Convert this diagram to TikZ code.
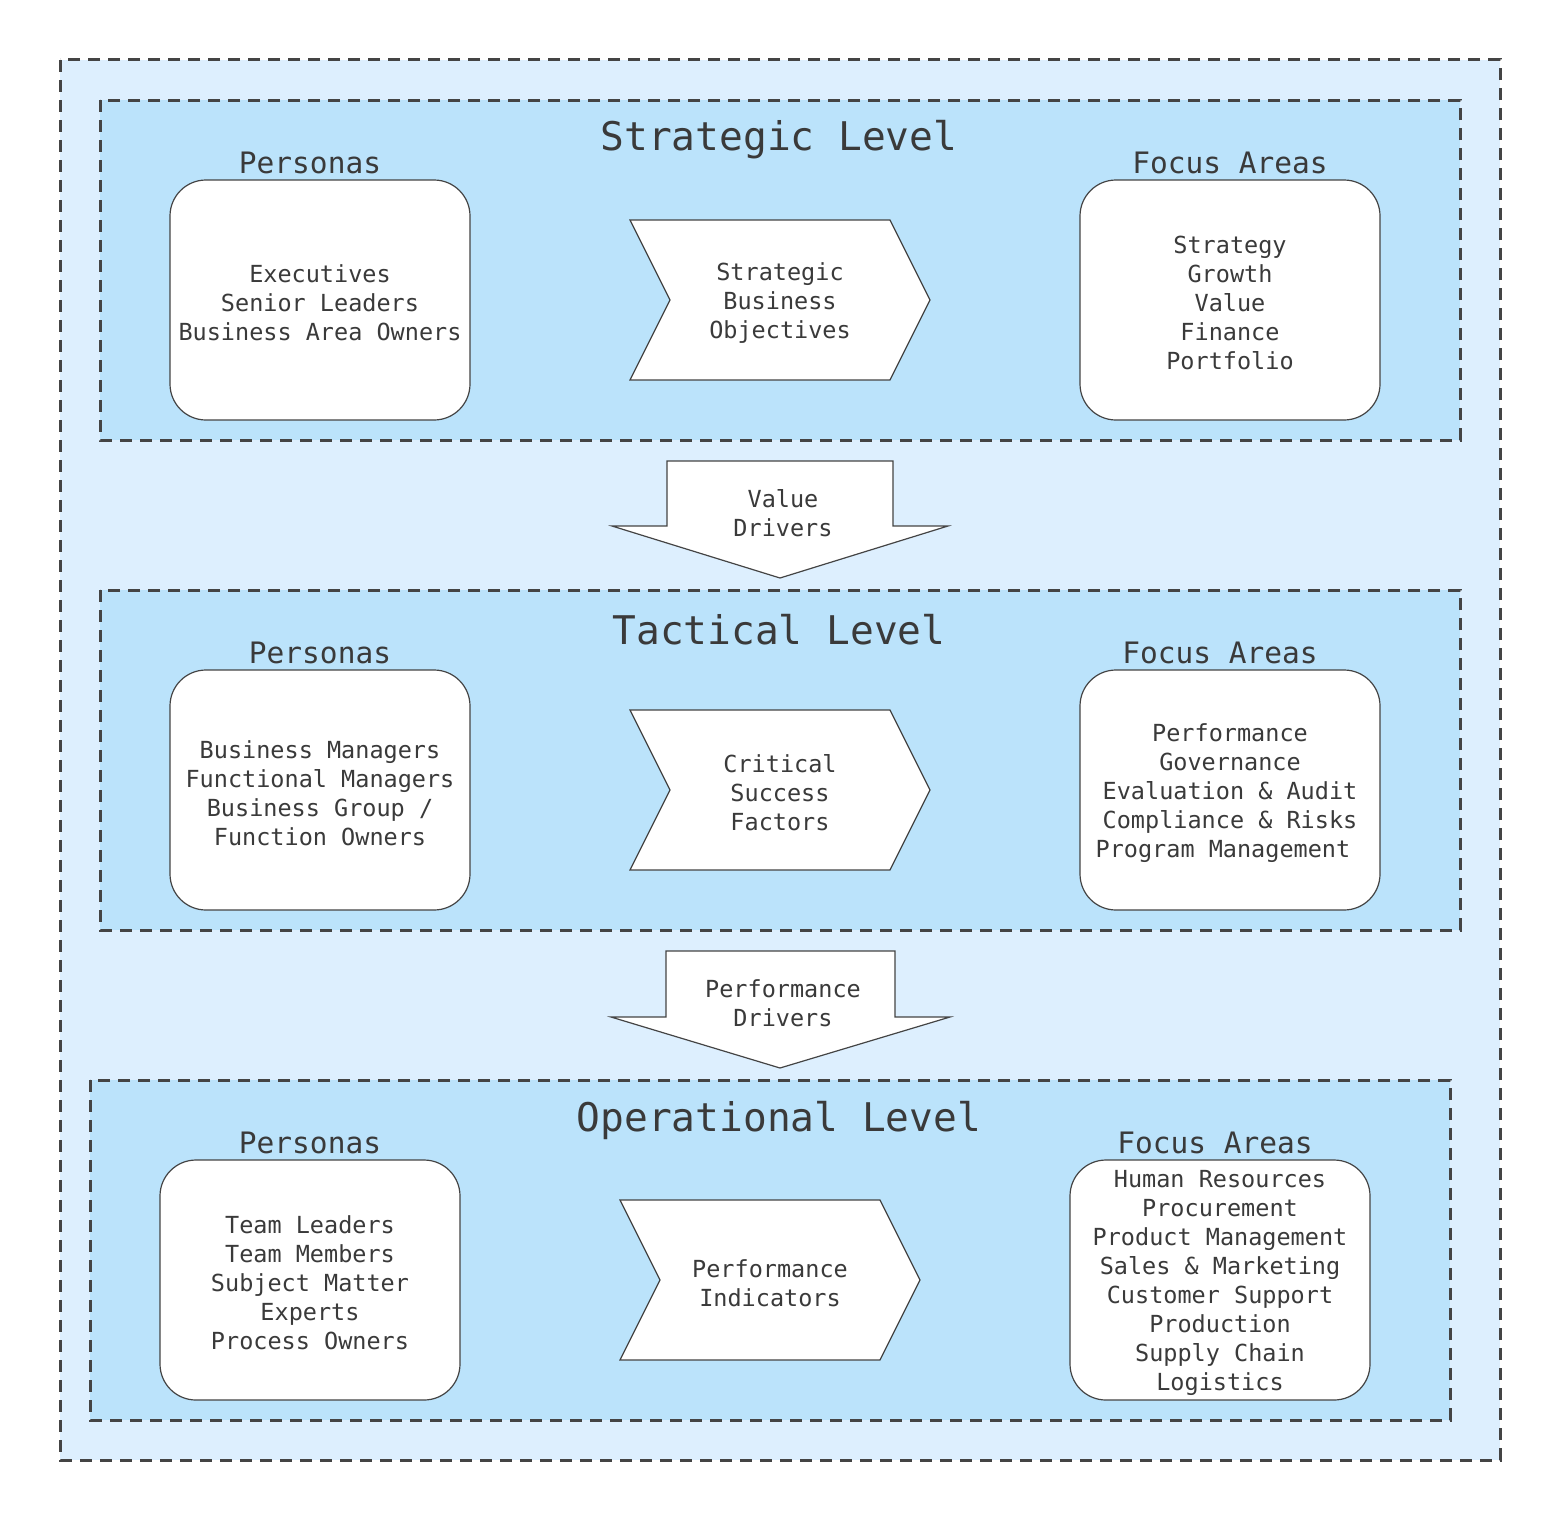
\documentclass[tikz,border=0pt]{standalone}
\usepackage{fontspec}
\setmonofont{DejaVu Sans Mono}
\definecolor{outerfill}{RGB}{221,239,254}
\definecolor{innerfill}{RGB}{187,227,251}
\definecolor{linec}{RGB}{68,68,68}
\definecolor{txt}{RGB}{58,58,58}
\newcommand{\bodyf}{\ttfamily\fontsize{23.5}{29}\selectfont}
\newcommand{\headf}{\ttfamily\fontsize{29.5}{36}\selectfont}
\newcommand{\titlef}{\ttfamily\fontsize{39.5}{48}\selectfont}
\tikzset{
  dashbox/.style={draw=linec, line width=3pt, dash pattern=on 12pt off 8pt},
  roundbox/.style={draw=linec, fill=white, line width=1.2pt, rounded corners=36pt,
    minimum width=300pt, minimum height=240pt, inner sep=0pt, align=center, font=\bodyf, text=txt},
  shapeline/.style={draw=linec, fill=white, line width=1.2pt, line join=miter},
  bodytext/.style={align=center, font=\bodyf, text=txt, inner sep=0pt},
  headtext/.style={font=\headf, text=txt, inner sep=0pt},
  titletext/.style={font=\titlef, text=txt, inner sep=0pt}
}
\begin{document}
\begin{tikzpicture}[x=1pt,y=-1pt]
\useasboundingbox (0,0) rectangle (1560,1520);
% outer
\fill[outerfill] (60,60) rectangle (1500,1460);
\draw[dashbox] (60,60) rectangle (1500,1460);
% level boxes
\fill[innerfill] (100,100) rectangle (1460,440);
\draw[dashbox] (100,100) rectangle (1460,440);
\fill[innerfill] (100,590) rectangle (1460,930);
\draw[dashbox] (100,590) rectangle (1460,930);
\fill[innerfill] (90,1080) rectangle (1450,1420);
\draw[dashbox] (90,1080) rectangle (1450,1420);

% ---------- Strategic ----------
\node[titletext] (t1) at (779,140) {Strategic Level};
\node[headtext] (p1h) at (310,163) {Personas};
\node[headtext] (f1h) at (1230,163) {Focus Areas};
\node[roundbox] (p1) at (320,300) {};
\node[bodytext] (p1t) at (320,303) {Executives\\Senior Leaders\\Business Area Owners};
\node[roundbox] (f1) at (1230,300) {};
\node[bodytext] (f1t) at (1230,303) {Strategy\\Growth\\Value\\Finance\\Portfolio};
\draw[shapeline] (630,220) -- (890,220) -- (930,300) -- (890,380) -- (630,380) -- (670,300) -- cycle;
\node[bodytext] (c1) at (780,303) {Strategic\\Business\\Objectives};

% Value drivers arrow
\draw[shapeline] (667,461) -- (893,461) -- (893,526) -- (948,526) -- (780,578) -- (612,526) -- (667,526) -- cycle;
\node[bodytext] (a1) at (783,513) {Value\\Drivers};

% ---------- Tactical ----------
\node[titletext] (t2) at (779,630) {Tactical Level};
\node[headtext] (p2h) at (320,653) {Personas};
\node[headtext] (f2h) at (1220,653) {Focus Areas};
\node[roundbox] (p2) at (320,790) {};
\node[bodytext] (p2t) at (320,793) {Business Managers\\Functional Managers\\Business Group /\\Function Owners};
\node[roundbox] (f2) at (1230,790) {};
\node[bodytext] (f2t) at (1230,793) {Performance\\Governance\\Evaluation \& Audit\\Compliance \& Risks\\Program Management\hspace*{0.6em}};
\draw[shapeline] (630,710) -- (890,710) -- (930,790) -- (890,870) -- (630,870) -- (670,790) -- cycle;
\node[bodytext] (c2) at (780,793) {Critical\\Success\\Factors};

% Performance drivers arrow
\draw[shapeline] (666,951) -- (895,951) -- (895,1017) -- (950,1017) -- (780,1068) -- (611,1017) -- (666,1017) -- cycle;
\node[bodytext] (a2) at (783,1003) {Performance\\Drivers};

% ---------- Operational ----------
\node[titletext] (t3) at (779,1120) {Operational Level};
\node[headtext] (p3h) at (310,1143) {Personas};
\node[headtext] (f3h) at (1215,1143) {Focus Areas};
\node[roundbox] (p3) at (310,1280) {};
\node[bodytext] (p3t) at (310,1283) {Team Leaders\\Team Members\\Subject Matter\\Experts\\Process Owners};
\node[roundbox] (f3) at (1220,1280) {};
\node[bodytext] (f3t) at (1220,1283) {Human Resources\\Procurement\\Product Management\\Sales \& Marketing\\Customer Support\\Production\\Supply Chain\\Logistics};
\draw[shapeline] (620,1200) -- (880,1200) -- (920,1280) -- (880,1360) -- (620,1360) -- (660,1280) -- cycle;
\node[bodytext] (c3) at (770,1283) {Performance\\Indicators};
\end{tikzpicture}
\end{document}
